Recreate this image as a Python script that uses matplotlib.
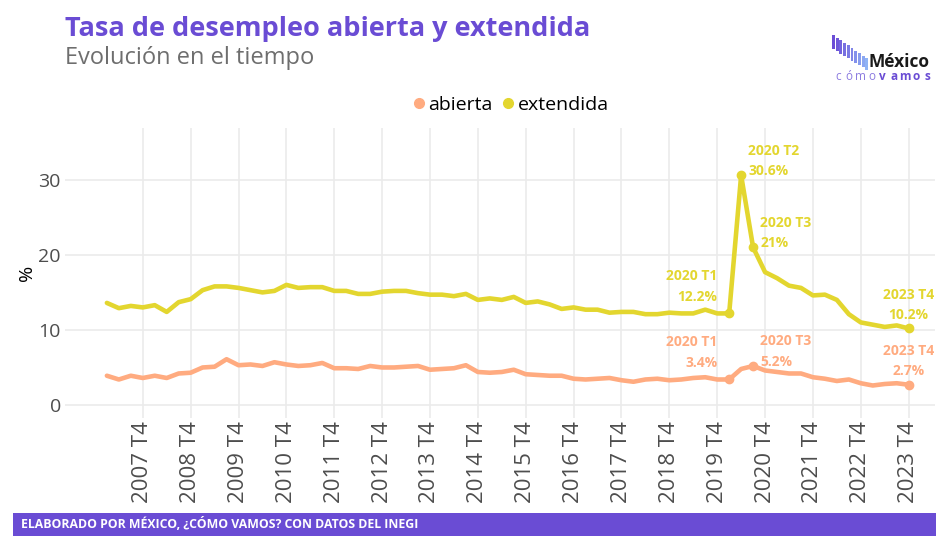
import matplotlib.pyplot as plt
from matplotlib.lines import Line2D
from matplotlib.patches import Rectangle

plt.rcParams['font.family'] = ['Open Sans', 'DejaVu Sans']

# trimestres 2007 T1 - 2023 T4
years = list(range(2007, 2024))
quarters = [f"{y} T{q}" for y in years for q in range(1, 5)]

abierta = [3.9, 3.4, 3.9, 3.6, 3.9, 3.6, 4.2, 4.3, 5.0, 5.1, 6.1, 5.3, 5.4, 5.2,
           5.7, 5.4, 5.2, 5.3, 5.6, 4.9, 4.9, 4.8, 5.2, 5.0, 5.0, 5.1, 5.2,
           4.7, 4.8, 4.9, 5.3, 4.4, 4.3, 4.4, 4.7, 4.1, 4.0, 3.9, 3.9, 3.5, 3.4,
           3.5, 3.6, 3.3, 3.1, 3.4, 3.5, 3.3, 3.4, 3.6, 3.7, 3.4, 3.4,
           4.8, 5.2, 4.6, 4.4, 4.2, 4.2, 3.7, 3.5, 3.2, 3.4, 2.9, 2.6, 2.8, 2.9, 2.7]

extendida = [13.6, 12.9, 13.2, 13.0, 13.3, 12.4, 13.7, 14.1, 15.3, 15.8, 15.8, 15.6,
             15.3, 15.0, 15.2, 16.0, 15.6, 15.7, 15.7, 15.2, 15.2, 14.8, 14.8, 15.1,
             15.2, 15.2, 14.9,
             14.7, 14.7, 14.5, 14.8, 14.0, 14.2, 14.0, 14.4, 13.6, 13.8, 13.4, 12.8,
             13.0, 12.7, 12.7, 12.3, 12.4, 12.4, 12.1, 12.1, 12.3, 12.2, 12.2, 12.7,
             12.2, 12.2,
             30.6, 21.0, 17.7, 16.9, 15.9, 15.6, 14.6, 14.7, 14.0, 12.1, 11.0, 10.7,
             10.4, 10.6, 10.2]

# etiquetas: (periodo, texto valor)
lab_ext = [("2020 T1", "12.2%"), ("2020 T2", "30.6%"), ("2020 T3", "21%"), ("2023 T4", "10.2%")]
lab_abi = [("2020 T1", "3.4%"), ("2020 T3", "5.2%"), ("2023 T4", "2.7%")]

c_abi = '#FFAB80'
c_ext = '#E3D62F'
purple = '#6A4CD4'

fig = plt.figure(figsize=(9.36, 5.36), dpi=100)
ax = fig.add_axes([65/936, 1-418/536, 870/936, 290/536])

x = list(range(len(quarters)))
ax.plot(x, abierta, color=c_abi, lw=3.3, solid_capstyle='round', zorder=3)
ax.plot(x, extendida, color=c_ext, lw=3.3, solid_capstyle='round', zorder=3)

# offsets (x en trimestres, y en %) segun posicion de la etiqueta
def style(per):
    if per == "2020 T1":
        return 'right', -1.0, 4.95, 2.25
    if per == "2023 T4":
        return 'center', 0.0, 4.5, 1.8
    return 'left', 0.6, 3.27, 0.55

for labs, vals, col in [(lab_ext, extendida, c_ext), (lab_abi, abierta, c_abi)]:
    for per, txt in labs:
        i = quarters.index(per)
        v = vals[i]
        ax.plot(i, v, 'o', color=col, ms=6, zorder=4)
        ha, dx, dy1, dy2 = style(per)
        ax.text(i + dx, v + dy1, per, color=col, fontsize=10, fontweight='bold',
                ha=ha, va='center')
        ax.text(i + dx, v + dy2, txt, color=col, fontsize=10, fontweight='bold',
                ha=ha, va='center')

ticks = [i for i, q in enumerate(quarters) if q.endswith("T4")]
ax.set_xticks(ticks)
ax.set_xticklabels([quarters[i] for i in ticks], rotation=90)
ax.set_yticks([0, 10, 20, 30])
ax.set_xlim(-3.5, 69.2)
ax.set_ylim(-1.73, 36.9)
ax.grid(color='#EBEBEB', lw=1.2)
ax.set_axisbelow(True)
for s in ax.spines.values():
    s.set_visible(False)
ax.tick_params(length=0, labelsize=14, labelcolor='#4D4D4D', pad=3)
ax.tick_params(axis='x', labelsize=16, pad=2)
ax.set_ylabel('%', fontsize=14, labelpad=2)

# leyenda
handles = [Line2D([], [], marker='o', ls='', color=c_abi, ms=7),
           Line2D([], [], marker='o', ls='', color=c_ext, ms=7)]
fig.legend(handles, ['abierta', 'extendida'], loc='center', ncol=2, frameon=False,
           bbox_to_anchor=(509/936, 1-105/536), fontsize=14, handletextpad=0.0,
           columnspacing=0.3, handlelength=1.0)

# titulos
fig.text(65/936, 1-36/536, 'Tasa de desempleo abierta y extendida', color=purple,
         fontsize=19.5, fontweight='bold', va='baseline')
fig.text(65/936, 1-64/536, 'Evolución en el tiempo', color='#6E6E6E',
         fontsize=17, va='baseline')

# logo
for k in range(10):
    t = 1 - (35 + 2.6*k)/536
    b = 1 - (49 + 2.3*k)/536
    col = (0.42 + 0.14*k/9, 0.30 + 0.40*k/9, 0.84 + 0.12*k/9)
    fig.add_artist(Rectangle(((832 + 3.7*k)/936, b), 2.9/936, t - b, color=col, lw=0))
fig.text(869/936, 1-67/536, 'México', fontsize=12.5, fontweight='bold', color='#1A1A1A',
         va='baseline')
for k, ch in enumerate('cómovamos'):
    fig.text((838 + 11.2*k)/936, 1-77/536, ch, fontsize=8.5, ha='center', va='center',
             color=purple if k >= 4 else '#8C7BE0', fontweight='bold' if k >= 4 else 'normal')

# pie
fig.add_artist(Rectangle((13/936, 0), 1, 23/536, color=purple, lw=0))
fig.text(21/936, 11.5/536, 'ELABORADO POR MÉXICO, ¿CÓMO VAMOS? CON DATOS DEL INEGI',
         color='white', fontsize=8.8, fontweight='bold', va='center')

fig.savefig('out.png', dpi=100)
